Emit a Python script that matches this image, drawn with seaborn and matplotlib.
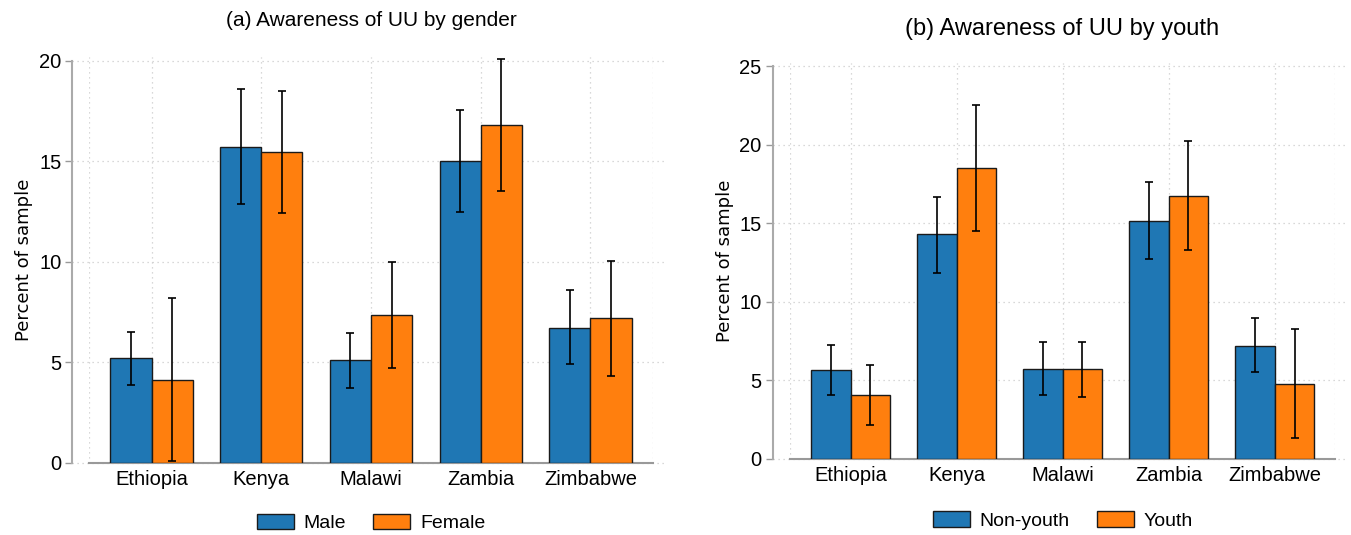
import matplotlib
matplotlib.use("Agg")
import matplotlib.pyplot as plt
import seaborn as sns
import pandas as pd
import numpy as np

countries = ["Ethiopia", "Kenya", "Malawi", "Zambia", "Zimbabwe"]

# panel (a): gender
male = [5.2, 15.7, 5.1, 15.0, 6.7]
male_lo = [3.9, 12.9, 3.75, 12.5, 4.9]
male_hi = [6.5, 18.6, 6.45, 17.55, 8.6]
female = [4.15, 15.45, 7.35, 16.8, 7.2]
female_lo = [0.1, 12.45, 4.75, 13.55, 4.35]
female_hi = [8.2, 18.5, 10.0, 20.1, 10.05]

# panel (b): youth
nonyouth = [5.65, 14.3, 5.75, 15.15, 7.2]
nonyouth_lo = [4.05, 11.85, 4.05, 12.75, 5.55]
nonyouth_hi = [7.25, 16.7, 7.45, 17.6, 8.95]
youth = [4.05, 18.5, 5.7, 16.75, 4.8]
youth_lo = [2.15, 14.5, 3.95, 13.3, 1.35]
youth_hi = [6.0, 22.5, 7.45, 20.25, 8.3]

sns.set_theme(style="white")
plt.rcParams["font.family"] = ["Liberation Sans", "DejaVu Sans"]
plt.rcParams["text.color"] = "black"
plt.rcParams["axes.labelcolor"] = "black"
plt.rcParams["xtick.color"] = "black"
plt.rcParams["ytick.color"] = "black"

colors = ["#1f77b4", "#ff7f0e"]
grid_kw = dict(color="#cccccc", linestyle=(0, (1, 3)), linewidth=0.9)


def panel(ax, groups, title, ymax, yticks, offset, leg_y, title_size, title_pad):
    rows = []
    for name, vals, lo, hi in groups:
        for c, v, l, h in zip(countries, vals, lo, hi):
            rows.append({"country": c, "group": name, "value": v, "lo": l, "hi": h})
    df = pd.DataFrame(rows)
    names = [g[0] for g in groups]
    sns.barplot(data=df, x="country", y="value", hue="group", hue_order=names,
                order=countries, palette=colors, width=0.75, errorbar=None,
                edgecolor="#1a1a1a", linewidth=1.0, saturation=1, ax=ax, zorder=3)
    # error bars at bar centres
    for i, name in enumerate(names):
        cont = ax.containers[i]
        sub = df[df["group"] == name].set_index("country").loc[countries]
        xs = [p.get_x() + p.get_width() / 2 for p in cont.patches]
        ax.errorbar(xs, sub["value"],
                    yerr=[sub["value"] - sub["lo"], sub["hi"] - sub["value"]],
                    fmt="none", ecolor="black", elinewidth=1.2, capsize=3,
                    capthick=1.2, zorder=4)
    ax.set_xlim(-0.57, 4.57)
    ax.set_ylim(0, ymax)
    ax.set_yticks(yticks)
    ax.set_xlabel("")
    ax.set_ylabel("Percent of sample", family="DejaVu Sans", fontsize=13, labelpad=4)
    ax.set_title(title, fontsize=title_size, pad=title_pad)
    ax.tick_params(axis="x", length=0, labelsize=14.5, pad=5)
    ax.tick_params(axis="y", length=5, width=1, color="#999999", labelcolor="black",
                   labelsize=14.5, left=True, pad=3)
    # horizontal grid reaches back to the offset y spine
    ax_w = ax.get_position().width * ax.figure.get_figwidth() * 72
    start = -offset / ax_w
    for y in yticks:
        ax.axhline(y, xmin=start, xmax=1.02, zorder=0, clip_on=False, **grid_kw)
    for x in list(range(len(countries))) + [-0.57, 4.57]:
        ax.axvline(x, zorder=0, **grid_kw)
    for s in ["top", "right"]:
        ax.spines[s].set_visible(False)
    ax.spines["left"].set_position(("outward", offset))
    ax.spines["left"].set_bounds(yticks[0], yticks[-1])
    ax.spines["left"].set_color("#aaaaaa")
    ax.spines["left"].set_linewidth(1.5)
    ax.spines["bottom"].set_color("#999999")
    ax.spines["bottom"].set_linewidth(1.5)
    ax.legend(loc="center", bbox_to_anchor=(0.5, leg_y), ncol=2,
              frameon=False, fontsize=14, handlelength=1.9, handleheight=0.85,
              columnspacing=1.4, handletextpad=0.5)


fig = plt.figure(figsize=(13.51, 5.35), dpi=100)
ax1 = fig.add_axes([0.0659, 0.1346, 0.4174, 0.759])
ax2 = fig.add_axes([0.5848, 0.1421, 0.4034, 0.740])

panel(ax1, [("Male", male, male_lo, male_hi), ("Female", female, female_lo, female_hi)],
      "(a) Awareness of UU by gender", 20.2, [0, 5, 10, 15, 20], 12, -0.148, 15, 22)
panel(ax2, [("Non-youth", nonyouth, nonyouth_lo, nonyouth_hi),
            ("Youth", youth, youth_lo, youth_hi)],
      "(b) Awareness of UU by youth", 25.2, [0, 5, 10, 15, 20, 25], 12.5, -0.155, 17, 20)

fig.savefig("out.png", dpi=100)
